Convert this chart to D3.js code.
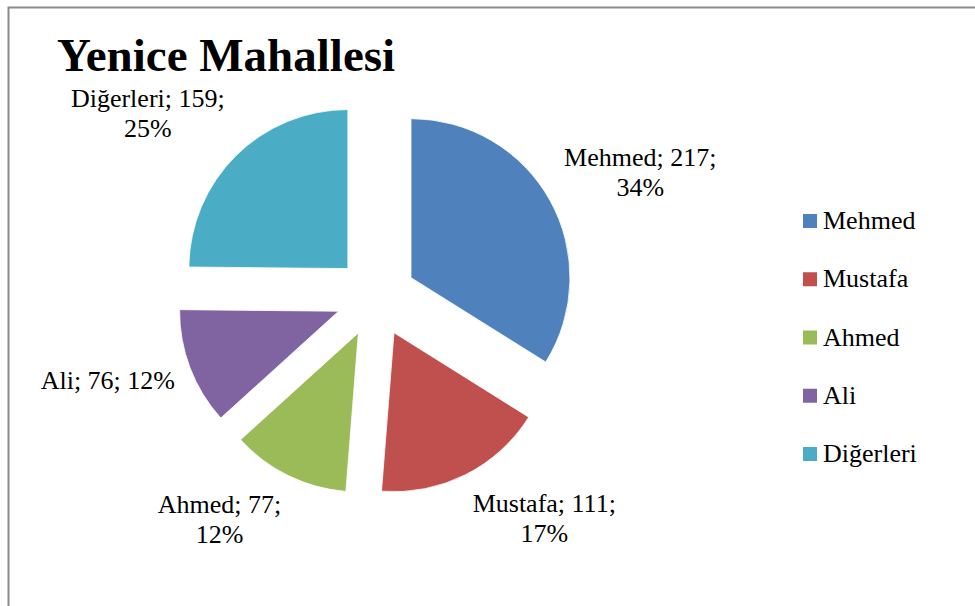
<!DOCTYPE html>
<html>
<head>
<meta charset="utf-8">
<script src="https://cdn.jsdelivr.net/npm/d3@7"></script>
<style>
  html, body { margin: 0; padding: 0; background: #fff; }
  svg { display: block; font-family: "Liberation Serif", "Times New Roman", serif; }
</style>
</head>
<body>
<div id="chart"></div>
<script>
// Données du graphique
const names = ["Mehmed", "Mustafa", "Ahmed", "Ali", "Diğerleri"];
const counts = [217, 111, 77, 76, 159];
const percents = ["34%", "17%", "12%", "12%", "25%"];
const colors = ["#4F81BD", "#C0504D", "#9BBB59", "#8064A2", "#4BACC6"];
const title = "Yenice Mahallesi";

const width = 975, height = 606;
const cx = 376, cy = 297, radius = 159, explode = 40;

const svg = d3.select("#chart").append("svg")
    .attr("width", width)
    .attr("height", height);

// cadre gris (bords droit/bas hors cadre)
svg.append("rect")
    .attr("x", 8.5)
    .attr("y", 7.5)
    .attr("width", width + 10)
    .attr("height", height + 10)
    .style("fill", "none")
    .style("stroke", "#8a8a8a")
    .style("stroke-width", 2);

// titre
svg.append("text")
    .attr("x", 57)
    .attr("y", 71)
    .style("font-size", "47px")
    .style("font-weight", "bold")
    .style("fill", "#000")
    .text(title);

const pie = d3.pie().sort(null).value(d => d.value);
const arc = d3.arc().innerRadius(0).outerRadius(radius);

const data = names.map((n, i) => ({ name: n, value: counts[i], pct: percents[i], color: colors[i] }));
const arcs = pie(data);

const dir = a => [Math.sin(a), -Math.cos(a)];

const pieGroup = svg.append("g").attr("transform", `translate(${cx},${cy})`);

pieGroup.selectAll("path")
    .data(arcs)
    .enter()
    .append("path")
    .attr("d", arc)
    .attr("transform", d => {
        const m = (d.startAngle + d.endAngle) / 2;
        const [dx, dy] = dir(m);
        return `translate(${dx * explode},${dy * explode})`;
    })
    .style("fill", d => d.data.color)
    .style("stroke", "#ffffff")
    .style("stroke-width", 0.8);

// étiquettes (meilleur ajustement, à l'extérieur)
const labelFont = 26, lineH = 30, labelR = 215, maxW = 150;
const labels = svg.append("g");

arcs.forEach(d => {
    const m = (d.startAngle + d.endAngle) / 2;
    const [dx, dy] = dir(m);
    const full = `${d.data.name}; ${d.data.value}; ${d.data.pct}`;

    const t = labels.append("text")
        .style("font-size", labelFont + "px")
        .style("fill", "#000")
        .attr("text-anchor", "middle");

    // mesure pour décider du retour à la ligne
    t.text(full);
    let lines = [full];
    if (t.node().getComputedTextLength() > maxW) {
        lines = [`${d.data.name}; ${d.data.value};`, d.data.pct];
    }
    t.text(null);
    const spans = lines.map(l => t.append("tspan").text(l));
    const w = d3.max(spans, s => s.node().getComputedTextLength());
    const h = lines.length * lineH;

    // point d'ancrage sur le cercle, boîte posée du côté extérieur
    const px = cx + dx * labelR;
    const py = cy + dy * labelR;
    const bx = px + Math.sign(dx) * w / 2;
    const by = py + Math.max(-1, Math.min(1, dy * 1.4)) * h / 2;
    const top = by - h / 2;

    spans.forEach((s, i) => {
        s.attr("x", bx).attr("y", top + i * lineH + 23);
    });
});

// légende
const legendY = d3.scalePoint()
    .domain(names)
    .range([221, 454]);

const legend = svg.append("g");
const rows = legend.selectAll("g")
    .data(data)
    .enter()
    .append("g")
    .attr("transform", d => `translate(803,${legendY(d.name)})`);

rows.append("rect")
    .attr("x", 0)
    .attr("y", -7)
    .attr("width", 14)
    .attr("height", 14)
    .style("fill", d => d.color);

rows.append("text")
    .attr("x", 20)
    .attr("y", 8)
    .style("font-size", "26px")
    .style("fill", "#000")
    .text(d => d.name);
</script>
</body>
</html>
